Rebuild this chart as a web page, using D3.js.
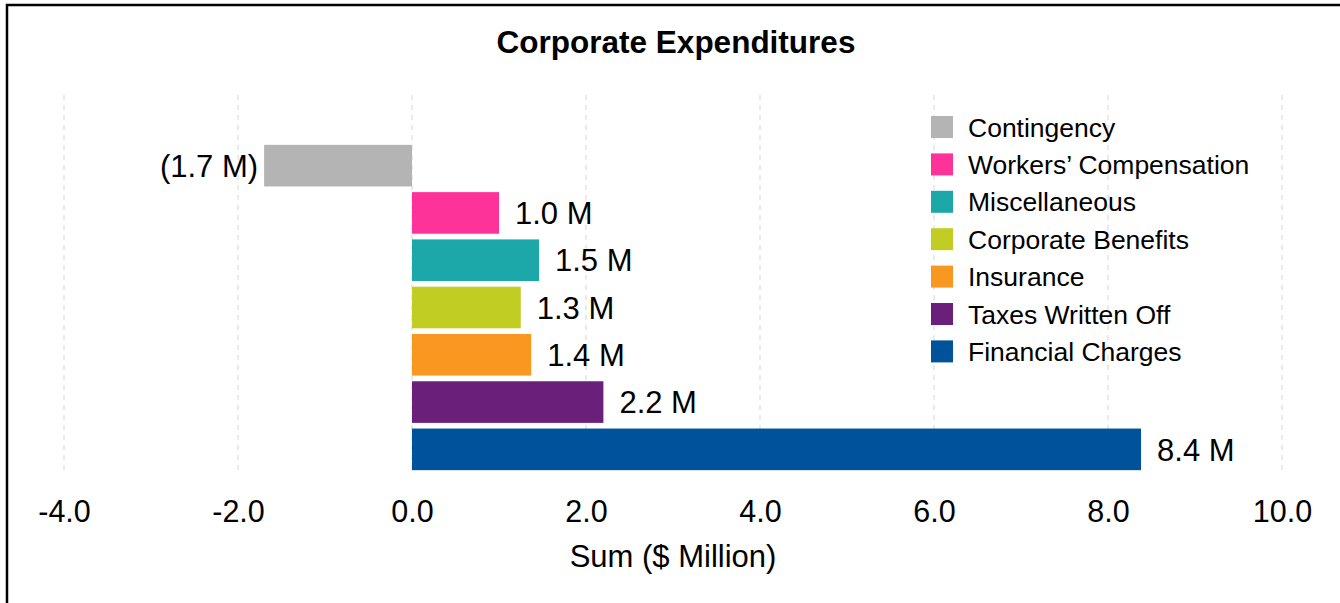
<!DOCTYPE html>
<html>
<head>
<meta charset="utf-8">
<script src="https://cdn.jsdelivr.net/npm/d3@7.9.0/dist/d3.min.js"></script>
<style>
  html, body { margin: 0; padding: 0; background: #fff; }
  svg { display: block; font-family: "Liberation Sans", Arial, sans-serif; }
</style>
</head>
<body>
<svg id="chart" width="1340" height="603"></svg>
<script>
// --- Data ---
const categories = [
  'Contingency',
  'Workers’ Compensation',
  'Miscellaneous',
  'Corporate Benefits',
  'Insurance',
  'Taxes Written Off',
  'Financial Charges'
];
const values = [-1.7, 1.0, 1.46, 1.25, 1.37, 2.2, 8.38];
const labels = ['(1.7 M)', '1.0 M', '1.5 M', '1.3 M', '1.4 M', '2.2 M', '8.4 M'];
const colors = ['#b4b4b4', '#fe3399', '#1ca8a9', '#c2cd23', '#f89821', '#6a1f7a', '#00529b'];
const xTicks = [-4, -2, 0, 2, 4, 6, 8, 10];

const svg = d3.select('#chart');

// frame (top + left edges visible)
svg.append('path')
  .attr('d', 'M7,603 L7,5 L1340,5')
  .attr('fill', 'none')
  .attr('stroke', '#000')
  .attr('stroke-width', 2.5);

// --- Scales ---
const x = d3.scaleLinear().domain([-4, 10]).range([64, 1282]);
const y = d3.scaleBand()
  .domain(categories)
  .range([142, 473])
  .paddingInner(0.12)
  .paddingOuter(0.06);
const color = d3.scaleOrdinal().domain(categories).range(colors);

// title
svg.append('text')
  .attr('x', 676).attr('y', 53)
  .attr('text-anchor', 'middle')
  .attr('font-size', 31.5).attr('font-weight', 'bold')
  .text('Corporate Expenditures');

// dashed vertical gridlines
svg.append('g')
  .selectAll('line')
  .data(xTicks)
  .join('line')
    .attr('x1', d => x(d)).attr('x2', d => x(d))
    .attr('y1', 95).attr('y2', 471)
    .attr('stroke', '#dcdcdc')
    .attr('stroke-width', 1.2)
    .attr('stroke-dasharray', '5,5');

// x axis: labels only, plain hyphen for negatives
const fmt = d => d3.format('.1f')(d).replace('−', '-');
const xAxis = svg.append('g')
  .attr('transform', 'translate(0,490)')
  .call(d3.axisBottom(x).tickValues(xTicks).tickFormat(fmt).tickSize(0).tickPadding(0));
xAxis.select('.domain').remove();
xAxis.selectAll('text')
  .attr('font-size', 30.5)
  .attr('font-family', '"Liberation Sans", Arial, sans-serif')
  .attr('fill', '#000')
  .attr('dy', null)
  .attr('y', 32);

svg.append('text')
  .attr('x', 673).attr('y', 567)
  .attr('text-anchor', 'middle')
  .attr('font-size', 31)
  .text('Sum ($ Million)');

// bars
const rows = categories.map((c, i) => ({ cat: c, value: values[i], label: labels[i] }));

svg.append('g')
  .selectAll('rect')
  .data(rows)
  .join('rect')
    .attr('x', d => x(Math.min(0, d.value)))
    .attr('y', d => y(d.cat))
    .attr('width', d => Math.abs(x(d.value) - x(0)))
    .attr('height', y.bandwidth())
    .attr('fill', d => color(d.cat));

// value labels
svg.append('g')
  .selectAll('text')
  .data(rows)
  .join('text')
    .attr('x', d => d.value < 0 ? x(d.value) - 6 : x(d.value) + 16)
    .attr('y', d => y(d.cat) + y.bandwidth() / 2)
    .attr('dy', '0.36em')
    .attr('text-anchor', d => d.value < 0 ? 'end' : 'start')
    .attr('font-size', 31)
    .text(d => d.label);

// legend
const legend = svg.append('g').attr('transform', 'translate(931,116)');
const item = legend.selectAll('g')
  .data(categories)
  .join('g')
    .attr('transform', (d, i) => `translate(0,${i * 37.4})`);
item.append('rect')
  .attr('width', 22).attr('height', 22)
  .attr('fill', d => color(d));
item.append('text')
  .attr('x', 37).attr('y', 11)
  .attr('dy', '0.36em')
  .attr('font-size', 26.5)
  .text(d => d);
</script>
</body>
</html>
